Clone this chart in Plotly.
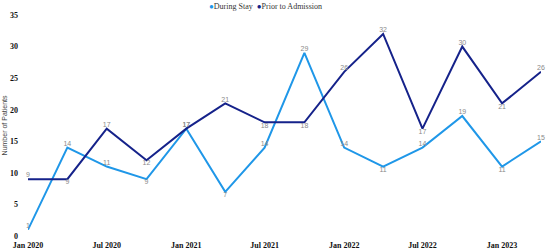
import plotly.graph_objects as go

# quarterly dates
dates = ["2020-01-01", "2020-04-01", "2020-07-01", "2020-10-01",
         "2021-01-01", "2021-04-01", "2021-07-01", "2021-10-01",
         "2022-01-01", "2022-04-01", "2022-07-01", "2022-10-01",
         "2023-01-01", "2023-04-01"]

during_stay = [1, 14, 11, 9, 17, 7, 14, 29, 14, 11, 14, 19, 11, 15]
prior_admission = [9, 9, 17, 12, 17, 21, 18, 18, 26, 32, 17, 30, 21, 26]

tick_dates = ["2020-01-01", "2020-07-01", "2021-01-01", "2021-07-01",
              "2022-01-01", "2022-07-01", "2023-01-01"]
tick_labels = ["Jan 2020", "Jul 2020", "Jan 2021", "Jul 2021",
               "Jan 2022", "Jul 2022", "Jan 2023"]

T, B = "top center", "bottom center"
pos_during = [T, T, T, B, T, B, T, T, T, B, T, T, B, T]
pos_prior = [T, B, T, B, T, T, B, B, T, T, B, T, B, T]

label_font = dict(family="Arial, sans-serif", size=7, color="#8a8a8a")
serif_bold = dict(family="Liberation Serif, Times New Roman, serif", size=8,
                  color="#111111", weight="bold")

series = [("During Stay", during_stay, pos_during, "#1f97e8"),
          ("Prior to Admission", prior_admission, pos_prior, "#15228a")]

fig = go.Figure()
for name, vals, pos, color in series:
    fig.add_trace(go.Scatter(
        x=dates, y=vals, name=name, showlegend=False,
        mode="lines+text", text=[str(v) for v in vals],
        textposition=pos, textfont=label_font,
        line=dict(color=color, width=2),
        cliponaxis=False,
    ))

fig.update_xaxes(
    range=["2020-01-01", "2023-04-01"],
    tickvals=tick_dates, ticktext=tick_labels,
    showgrid=False, zeroline=False, showline=False,
    tickfont=serif_bold,
    ticks="outside", ticklen=1, tickcolor="rgba(0,0,0,0)",
)
fig.update_yaxes(
    range=[0, 35], dtick=5,
    showgrid=False, zeroline=False, showline=False,
    tickfont=serif_bold,
    ticklabelstandoff=9,
)

fig.add_annotation(
    text="Number of Patients", textangle=-90,
    xref="paper", yref="paper", x=-0.045, y=0.5,
    xanchor="center", yanchor="middle", showarrow=False,
    font=dict(family="Arial, sans-serif", size=7, color="#444444"),
)

# compact legend, as in the reference
legend_text = "  ".join(
    f"<span style='color:{c}'>●</span>{n}" for n, _, _, c in series)
fig.add_annotation(
    text=legend_text, xref="paper", yref="paper",
    x=0.462, y=1.04, xanchor="center", yanchor="middle", showarrow=False,
    font=dict(family="Liberation Serif, Times New Roman, serif", size=8, color="#333333"),
)

fig.update_layout(
    width=550, height=251,
    margin=dict(l=28, r=9, t=15, b=15, autoexpand=False),
    plot_bgcolor="white", paper_bgcolor="white",
    showlegend=False,
)

fig.write_html("out.html", config={"displayModeBar": False},
               post_script="document.body.style.margin='0';")
